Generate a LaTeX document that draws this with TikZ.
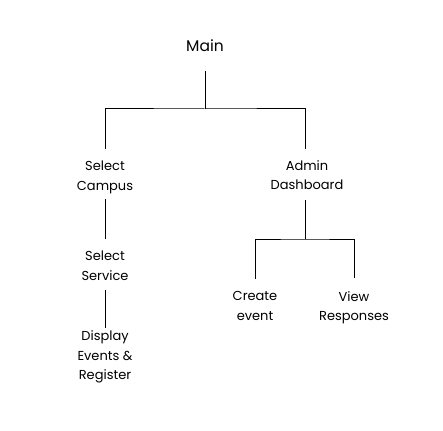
\documentclass[tikz,border=0pt]{standalone}
\usepackage{fontspec}
\setmainfont{Poppins}
\usetikzlibrary{positioning}
\begin{document}
\begin{tikzpicture}[x=1pt, y=-1pt, auto,
    every node/.style={align=center, inner sep=0pt, font=\fontsize{13}{19.5}\selectfont},
    link/.style={line width=1pt}]
    \useasboundingbox (0,0) rectangle (443,430);
    \node (M) at (205,45.3) {\fontsize{15.5}{18}\selectfont Main};
    \node (SC) at (105,177.4) {Select\\Campus};
    \node (AD) at (307,175.2) {Admin\\Dashboard};
    \node (SS) at (105,265.9) {Select\\Service};
    \node (DR) at (105,357.1) {Display\\Events \&\\Register};
    \node (CE) at (255,305.9) {Create\\event};
    \node (VR) at (354,307.6) {View\\Responses};
    \coordinate (Mbar) at (205,109);
    \coordinate (ADbar) at (305,239);
    \draw[link] ([yshift=-19.3pt]M.south) -- (Mbar);
    \draw[link] ([yshift=12pt]SC.north) |- (Mbar) -| ([yshift=11.4pt]AD.north -| ADbar);
    \draw[link] ([yshift=-5.5pt]SC.south) -- ([yshift=12pt]SS.north);
    \draw[link] ([yshift=-9.3pt]SS.south) -- ([yshift=3pt]DR.north);
    \draw[link] ([yshift=-10pt]AD.south -| ADbar) -- (ADbar);
    \draw[link] ([yshift=12.6pt]CE.north) |- (ADbar) -| ([yshift=12.6pt]VR.north);
\end{tikzpicture}
\end{document}
